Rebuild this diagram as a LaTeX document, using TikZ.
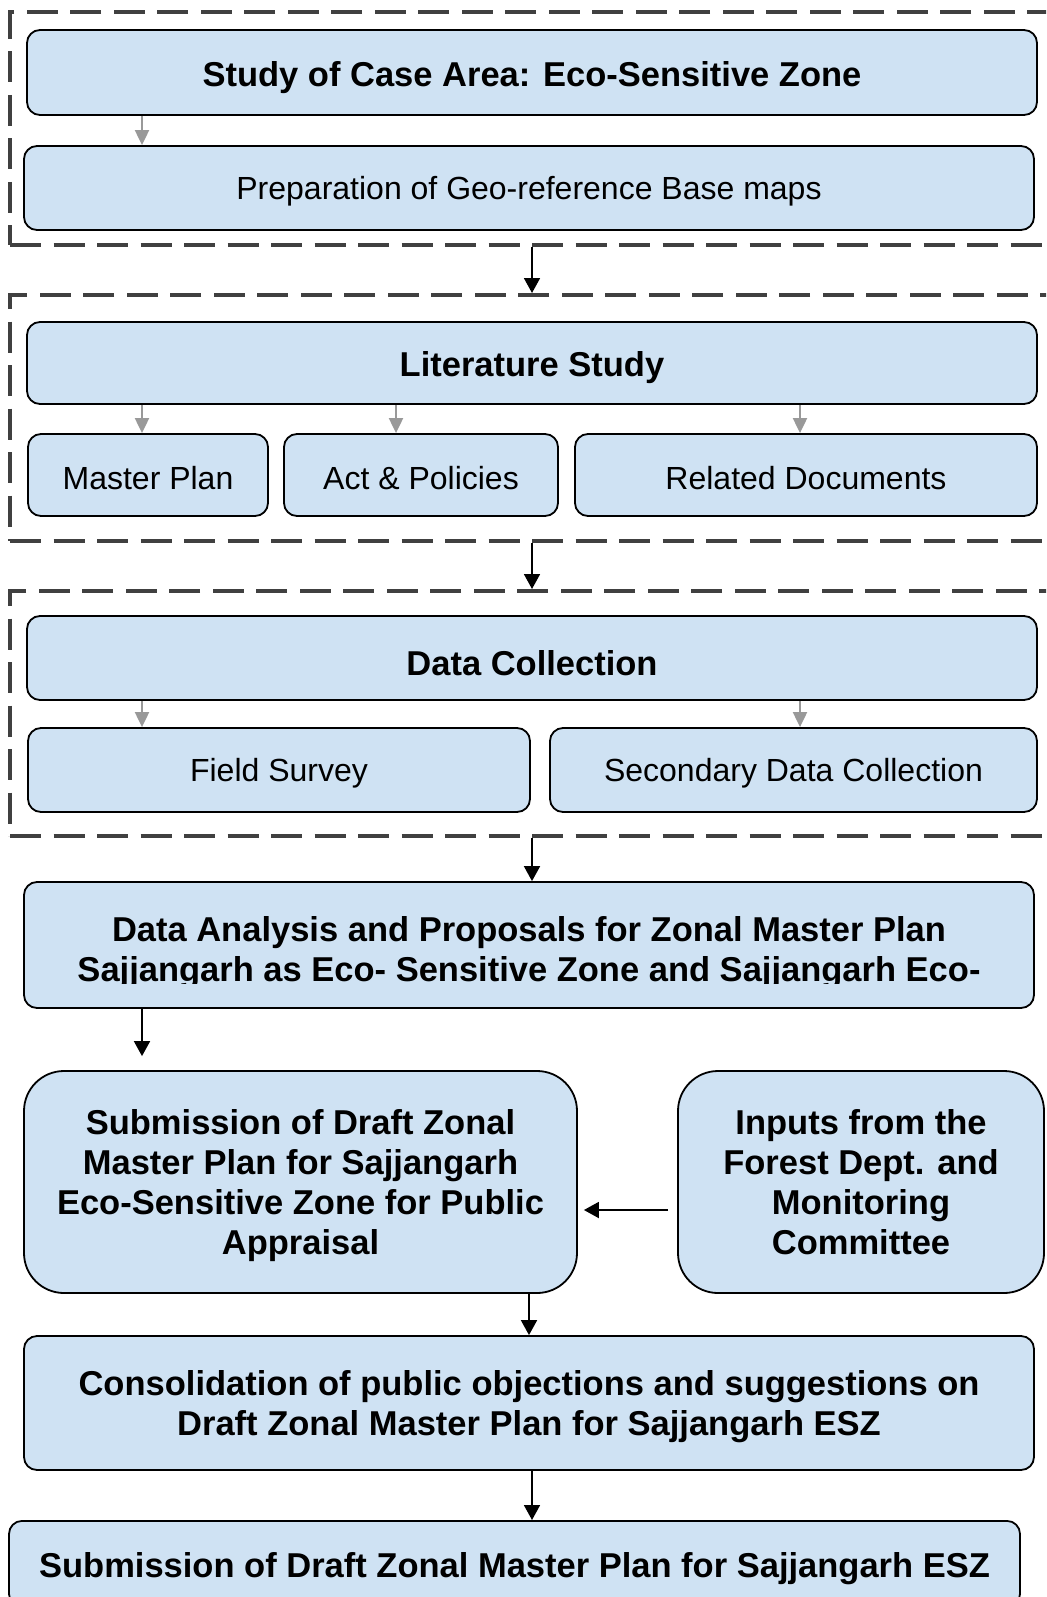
\documentclass[tikz,border=0pt]{standalone}
\usepackage{fontspec}
\setmainfont{Liberation Sans}
\usetikzlibrary{arrows.meta}

\definecolor{boxblue}{RGB}{207,226,243}
\definecolor{framegrey}{RGB}{64,64,64}
\newcommand{\headfont}{\fontsize{34.5}{40}\selectfont\bfseries}
\newcommand{\itemfont}{\fontsize{32}{40}\selectfont}

\begin{document}
\begin{tikzpicture}[x=1pt,y=-1pt,
    base/.style={draw=black, line width=1.8pt, fill=boxblue, rounded corners=13pt,
      inner sep=0pt, align=center},
    box/.style={base, font=\headfont, execute at begin node={\rule{0pt}{35pt}}},
    item/.style={base, font=\itemfont, execute at begin node={\rule{0pt}{30pt}}},
    bigbox/.style={box, rounded corners=40pt},
    sink/.style={text depth=#1},
    stage/.style={draw=framegrey, line width=4pt, dash pattern=on 31pt off 12.5pt, inner sep=0pt},
    link/.style={line width=1.8pt, -{Triangle[length=15pt,width=16pt]}},
    sublink/.style={draw=black!40, line width=2pt, -{Triangle[length=15pt,width=14pt]}}]
    \useasboundingbox (0,0) rectangle (1046,1597);
    \clip (0,0) rectangle (1046,1597);

    % columns for the arrows
    \coordinate (colA) at (142,0);
    \coordinate (colB) at (396,0);
    \coordinate (colC) at (800,0);
    \coordinate (mid) at (532,0);

    % dashed stages
    \node[stage, minimum width=1060pt, minimum height=233pt] (stageA) at (540,128.5) {};
    \node[stage, minimum width=1060pt, minimum height=246pt] (stageB) at (540,418) {};
    \node[stage, minimum width=1060pt, minimum height=245pt] (stageC) at (540,713.5) {};

    % stage 1
    \node[box, minimum width=1010pt, minimum height=85pt] (study) at (532,72.5) {Study of Case Area: Eco-Sensitive Zone};
    \node[item, minimum width=1010pt, minimum height=84pt] (prep) at (529,188) {Preparation of Geo-reference Base maps};

    % stage 2
    \node[box, minimum width=1010pt, minimum height=82pt] (lit) at (532,363) {Literature Study};
    \node[item, minimum width=240pt, minimum height=82pt] (master) at (148,475) {Master Plan};
    \node[item, minimum width=274pt, minimum height=82pt] (act) at (421,475) {Act \& Policies};
    \node[item, minimum width=462pt, minimum height=82pt] (related) at (806,475) {Related Documents};

    % stage 3
    \node[box, minimum width=1010pt, minimum height=84pt] (datacoll) at (532,658) {Data Collection};
    \node[item, minimum width=502pt, minimum height=84pt] (field) at (279,770) {Field Survey};
    \node[item, minimum width=487pt, minimum height=84pt] (secondary) at (793.5,770) {Secondary Data Collection};

    % analysis, text runs out of the box
    \node[box, minimum width=1010pt, minimum height=126pt] (analysis) at (529,945) {};
    \begin{scope}
        \clip (analysis.north west) rectangle ([yshift=25pt]analysis.south east);
        \node[align=center, font=\headfont] at ([yshift=-7.5pt]analysis.center)
            {Data Analysis and Proposals for Zonal Master Plan\\Sajjangarh as Eco- Sensitive Zone and Sajjangarh Eco-};
    \end{scope}

    \node[bigbox, sink=-5pt, minimum width=553pt, minimum height=222pt] (submit) at (300.5,1182)
        {Submission of Draft Zonal\\Master Plan for Sajjangarh\\Eco-Sensitive Zone for Public\\Appraisal};
    \node[bigbox, sink=-6pt, minimum width=366pt, minimum height=222pt] (inputs) at (861,1182)
        {Inputs from the\\Forest Dept. and\\Monitoring\\Committee};
    \node[box, sink=-5pt, minimum width=1010pt, minimum height=134pt] (consol) at (529,1403)
        {Consolidation of public objections and suggestions on\\Draft Zonal Master Plan for Sajjangarh ESZ};
    \node[box, minimum width=1011pt, minimum height=86pt, anchor=north] (final) at (514.5,1520)
        {Submission of Draft Zonal Master Plan for Sajjangarh ESZ};

    % grey arrows inside the stages
    \draw[sublink] (study.south -| colA) -- (prep.north -| colA);
    \draw[sublink] (lit.south -| colA) -- (master.north -| colA);
    \draw[sublink] (lit.south -| colB) -- (act.north -| colB);
    \draw[sublink] (lit.south -| colC) -- (related.north -| colC);
    \draw[sublink] (datacoll.south -| colA) -- (field.north -| colA);
    \draw[sublink] (datacoll.south -| colC) -- (secondary.north -| colC);

    % main flow
    \draw[link] (stageA.south -| mid) -- (stageB.north -| mid);
    \draw[link] (stageB.south -| mid) -- (stageC.north -| mid);
    \draw[link] (stageC.south -| mid) -- (analysis.north -| mid);
    \draw[link, shorten >=14pt] (analysis.south -| colA) -- (submit.north -| colA);
    \draw[link, shorten <=9pt, shorten >=6pt] ([yshift=-28pt]inputs.west) -- ([yshift=-28pt]inputs.west -| submit.east);
    \draw[link] (submit.south -| consol) -- (consol.north);
    \draw[link] (consol.south -| mid) -- (final.north -| mid);
\end{tikzpicture}
\end{document}
